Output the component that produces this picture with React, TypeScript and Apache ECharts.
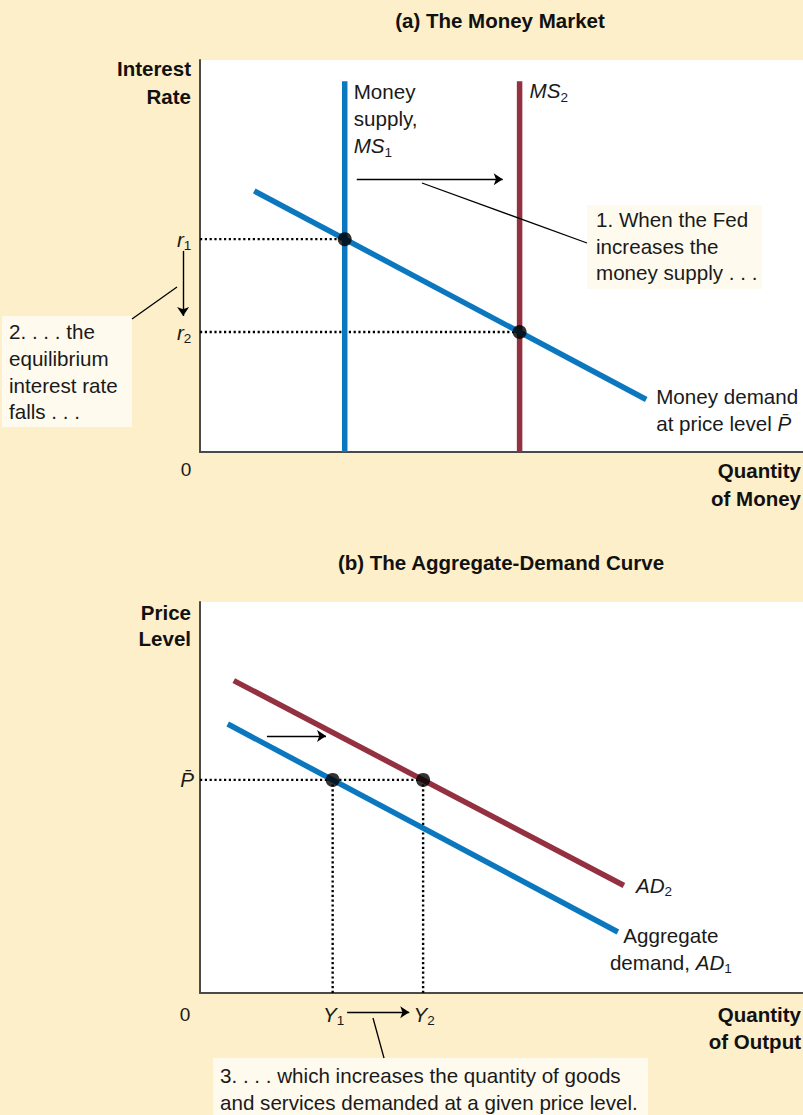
import { useEffect, useRef } from 'react';
import * as echarts from 'echarts';

// ---------- Panel (a): The Money Market (arbitrary units 0-100) ----------
const ms1X = 24;
const ms2X = 53;
const msTop = 94.6;
const rateLevels = [54.3, 30.6]; // r1, r2
const moneyDemand: number[][] = [[9, 66.6], [74, 13.4]];
const supplyShift: number[][] = [[26, 69.6], [50.2, 69.6]];
const rateFall: number[][] = [[-2.8, 51.3], [-2.8, 34.7]];

// ---------- Panel (b): The Aggregate-Demand Curve ----------
const ad1: number[][] = [[4.6, 68.8], [69.3, 15.6]];
const ad2: number[][] = [[5.6, 79.9], [70.3, 27.5]];
const priceLevel = 54.5;
const outputs = [22, 37]; // Y1, Y2
const demandShift: number[][] = [[11.1, 65.7], [20.9, 65.7]];
const outputRise: number[][] = [[24.4, -4.9], [34.7, -4.9]];

const BLUE = '#0b77bf';
const MAROON = '#943141';
const BG = '#fcefc9';
const BOX = '#fefaee';
const INK = '#1a1a1a';
const AXIS = '#4a4a4a';
const FONT = '"Liberation Sans", Arial, sans-serif';
const FS = 20.6;

export default function App() {
  const ref = useRef<HTMLDivElement>(null);
  useEffect(() => {
    document.body.style.margin = '0';
    const chart = echarts.init(ref.current!, null, { renderer: 'svg' });

    const axis = (gridIndex: number) => ({
      type: 'value', gridIndex, min: 0, max: 100,
      axisLine: { show: true, onZero: false, lineStyle: { color: AXIS, width: 2 } },
      axisTick: { show: false }, axisLabel: { show: false }, splitLine: { show: false },
    });
    const solid = (g: number, data: number[][], color: string) => ({
      type: 'line', xAxisIndex: g, yAxisIndex: g, data, symbol: 'none', silent: true, z: 3,
      lineStyle: { color, width: 5.5, cap: 'butt' },
    });
    const dotted = (g: number, data: number[][]) => ({
      type: 'line', xAxisIndex: g, yAxisIndex: g, data, symbol: 'none', silent: true, z: 2,
      lineStyle: { color: '#000', width: 2.4, type: [2.2, 2.6] },
    });
    const dots = (g: number, data: number[][]) => ({
      type: 'scatter', xAxisIndex: g, yAxisIndex: g, data, symbolSize: 14, silent: true, z: 5,
      itemStyle: { color: '#000' },
    });
    const arrows = (g: number, list: number[][][]) => ({
      type: 'lines', coordinateSystem: 'cartesian2d', xAxisIndex: g, yAxisIndex: g, clip: false,
      symbol: ['none', 'arrow'], symbolSize: 9, silent: true, z: 6,
      lineStyle: { color: '#000', width: 1.4, opacity: 1, curveness: 0 },
      data: list.map((coords) => ({ coords })),
    });

    chart.setOption({
      animation: false,
      backgroundColor: BG,
      grid: [
        { left: 200, top: 60, width: 603, height: 392, show: true, backgroundColor: '#fff', borderWidth: 0 },
        { left: 200, top: 602, width: 603, height: 391, show: true, backgroundColor: '#fff', borderWidth: 0 },
      ],
      xAxis: [axis(0), axis(1)],
      yAxis: [axis(0), axis(1)],
      series: [
        dotted(0, [[0, rateLevels[0]], [ms1X, rateLevels[0]]]),
        dotted(0, [[0, rateLevels[1]], [ms2X, rateLevels[1]]]),
        solid(0, [[ms1X, 0], [ms1X, msTop]], BLUE),
        solid(0, [[ms2X, 0], [ms2X, msTop]], MAROON),
        solid(0, moneyDemand, BLUE),
        dots(0, [[ms1X, rateLevels[0]], [ms2X, rateLevels[1]]]),
        arrows(0, [supplyShift, rateFall]),

        dotted(1, [[0, priceLevel], [outputs[1], priceLevel]]),
        dotted(1, [[outputs[0], 0], [outputs[0], priceLevel]]),
        dotted(1, [[outputs[1], 0], [outputs[1], priceLevel]]),
        solid(1, ad2, MAROON),
        solid(1, ad1, BLUE),
        dots(1, [[outputs[0], priceLevel], [outputs[1], priceLevel]]),
        arrows(1, [demandShift, outputRise]),
      ],
    });

    const px = (g: number, pt: number[]) => chart.convertToPixel({ gridIndex: g } as any, pt) as number[];
    const RICH = {
      i: { fontStyle: 'italic', fontSize: FS, fontFamily: FONT, lineHeight: 27, fill: INK },
      s: { fontSize: 13.5, fontFamily: FONT, lineHeight: 16, verticalAlign: 'bottom', fill: INK },
    };
    const text = (x: number, y: number, t: string, o: any = {}) => ({
      type: 'text', x, y, silent: true, z: 10,
      style: {
        text: t, fontFamily: FONT, fontSize: FS, fill: INK, lineHeight: 27,
        align: 'left', verticalAlign: 'top', rich: RICH, ...o,
      },
    });
    const bold = (x: number, y: number, t: string, o: any = {}) =>
      text(x, y, t, { fontWeight: 'bold', fontSize: 20.5, fill: '#111', ...o });
    const box = (x: number, y: number, w: number, h: number) => ({
      type: 'rect', silent: true, z: 8, shape: { x, y, width: w, height: h }, style: { fill: BOX },
    });
    const leader = (x1: number, y1: number, x2: number, y2: number) => ({
      type: 'line', silent: true, z: 9, shape: { x1, y1, x2, y2 }, style: { stroke: '#000', lineWidth: 1.3 },
    });

    const ms1Top = px(0, [ms1X, msTop]);
    const ms2Top = px(0, [ms2X, msTop]);
    const mdEnd = px(0, moneyDemand[1]);
    const r1 = px(0, [rateFall[0][0], rateLevels[0]]);
    const r2 = px(0, [rateFall[0][0], rateLevels[1]]);
    const ad1End = px(1, ad1[1]);
    const ad2End = px(1, ad2[1]);
    const pL = px(1, [0, priceLevel]);
    const y1 = px(1, [outputs[0], 0]);
    const y2 = px(1, [outputs[1], 0]);

    chart.setOption({
      graphic: [
        bold(500, 20, '(a) The Money Market', { align: 'center', verticalAlign: 'middle' }),
        bold(501, 562, '(b) The Aggregate-Demand Curve', { align: 'center', verticalAlign: 'middle' }),
        bold(191, 54, 'Interest\nRate', { align: 'right', lineHeight: 28 }),
        bold(191, 599, 'Price\nLevel', { align: 'right', lineHeight: 26 }),
        bold(801, 456, 'Quantity\nof Money', { align: 'right', lineHeight: 28 }),
        bold(801, 1001, 'Quantity\nof Output', { align: 'right', lineHeight: 27 }),
        text(186, 469, '0', { align: 'center', verticalAlign: 'middle', fontSize: 19 }),
        text(185, 1014, '0', { align: 'center', verticalAlign: 'middle', fontSize: 19 }),

        // Panel (a) labels
        text(ms1Top[0] + 9, ms1Top[1] - 3, 'Money\nsupply,\n{i|MS}{s|1}'),
        text(ms2Top[0] + 10, ms2Top[1] - 4, '{i|MS}{s|2}'),
        text(mdEnd[0] + 10, mdEnd[1] - 16.5, 'Money demand\nat price level {i|P\u0304}'),
        text(r1[0] + 1, r1[1], '{i|r}{s|1}', { align: 'center', verticalAlign: 'middle' }),
        text(r2[0] + 1, r2[1], '{i|r}{s|2}', { align: 'center', verticalAlign: 'middle' }),

        box(587, 205, 175, 84),
        text(596, 206.5, '1. When the Fed\nincreases the\nmoney supply . . .', { lineHeight: 26.5 }),
        leader(422, 183, 587, 243),
        box(2, 316, 130, 111),
        text(9, 318.5, '2. . . . the\nequilibrium\ninterest rate\nfalls . . .', { lineHeight: 26.7 }),
        leader(132, 319, 177, 287),

        // Panel (b) labels
        text(pL[0] - 13, pL[1], '{i|P\u0304}', { align: 'center', verticalAlign: 'middle' }),
        text(y1[0] + 1, y1[1] + 21, '{i|Y}{s|1}', { align: 'center', verticalAlign: 'middle' }),
        text(y2[0] + 1, y2[1] + 21, '{i|Y}{s|2}', { align: 'center', verticalAlign: 'middle' }),
        text(ad2End[0] + 12, ad2End[1] - 13.5, '{i|AD}{s|2}'),
        text(ad1End[0] + 53, ad1End[1] - 10.5, 'Aggregate\ndemand, {i|AD}{s|1}', { align: 'center' }),

        box(213, 1058, 435, 57),
        text(220, 1061.5, '3. . . . which increases the quantity of goods\nand services demanded at a given price level.', { lineHeight: 27 }),
        leader(373, 1018, 384, 1058),
      ],
    });

    return () => chart.dispose();
  }, []);
  return <div ref={ref} style={{ position: 'absolute', left: 0, top: 0, width: 803, height: 1115 }} />;
}
